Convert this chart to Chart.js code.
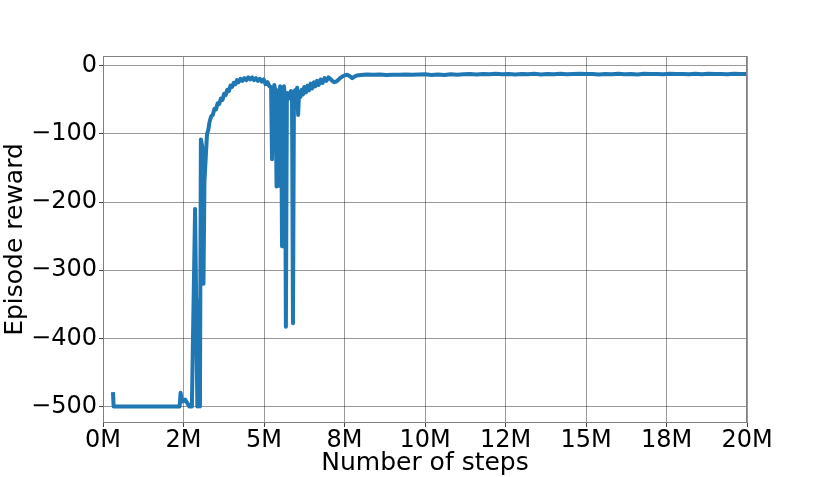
<!DOCTYPE html>
<html>
<head>
<meta charset="utf-8">
<script src="https://cdn.jsdelivr.net/npm/chart.js@4"></script>
<style>
  html, body { margin: 0; padding: 0; background: #fff; }
  #wrap { width: 831px; height: 477px; }
</style>
</head>
<body>
<div id="wrap"><canvas id="rewardChart" width="831" height="477"></canvas></div>
<script>
const CHART = document.getElementById("rewardChart");

// steps in millions
let stepsM = [
  0.31, 0.33, 1.0, 1.6, 2.38, 2.41, 2.45, 2.55, 2.68, 2.76,
  2.86, 2.93, 2.97, 3.01, 3.04, 3.08, 3.12, 3.15, 3.19, 3.23,
  3.27, 3.31, 3.36, 3.41, 3.46, 3.51, 3.56, 3.61, 3.66, 3.71,
  3.76, 3.81, 3.86, 3.91, 3.96, 4.01, 4.06, 4.11, 4.16, 4.21,
  4.27, 4.33, 4.39, 4.45, 4.51, 4.57, 4.63, 4.69, 4.75, 4.81,
  4.87, 4.93, 4.99, 5.05, 5.11, 5.17, 5.22, 5.25, 5.28, 5.32,
  5.36, 5.39, 5.42, 5.44, 5.47, 5.50, 5.53, 5.56, 5.59, 5.62,
  5.65, 5.68, 5.71, 5.74, 5.77, 5.80, 5.84, 5.87, 5.90, 5.93,
  5.96, 6.00, 6.03, 6.06, 6.09, 6.13, 6.17, 6.21, 6.25, 6.30,
  6.35, 6.40, 6.45, 6.50, 6.55, 6.60, 6.65, 6.70, 6.76, 6.82,
  6.88, 6.94, 7.00, 7.06, 7.12, 7.18, 7.24, 7.30, 7.36, 7.42,
  7.50, 7.58, 7.66, 7.74, 7.80, 7.88,
  8.0, 8.2, 8.4, 8.6, 8.8, 9.0, 9.2, 9.4, 9.6, 9.8,
  10.0, 10.2, 10.4, 10.6, 10.8, 11.0, 11.2, 11.4, 11.6, 11.8,
  12.0, 12.2, 12.4, 12.6, 12.8, 13.0, 13.2, 13.4, 13.6, 13.8,
  14.0, 14.2, 14.4, 14.6, 14.8, 15.0, 15.2, 15.4, 15.6, 15.8,
  16.0, 16.2, 16.4, 16.6, 16.8, 17.0, 17.2, 17.4, 17.6, 17.8,
  18.0, 18.2, 18.4, 18.6, 18.8, 19.0, 19.2, 19.4, 19.6, 19.8,
  20.0
];

let reward = [
  -479, -500, -500, -500, -500, -480, -493, -490, -500, -500,
  -210, -500, -345, -500, -108, -118, -320, -170, -135, -100,
  -94, -82, -74, -72, -63, -64, -55, -56, -48, -50,
  -41, -43, -35, -37, -29, -31, -25, -27, -21, -24,
  -19, -22, -18, -21, -17, -20, -17, -21, -18, -22,
  -19, -23, -20, -27, -24, -30, -31, -137, -35, -28,
  -38, -177, -42, -36, -176, -30, -32, -265, -38, -30,
  -45, -383, -45, -40, -48, -42, -37, -45, -378, -42,
  -36, -40, -32, -72, -38, -46, -35, -42, -31, -39,
  -29, -36, -26, -33, -24, -30, -22, -28, -20, -25,
  -18, -22, -17, -19, -22, -24, -23, -21, -18, -16,
  -14, -13, -15, -18, -16, -14,
  -13.5, -12.8, -13.2, -12.6, -13.4, -12.9, -13.1, -12.5, -13.0, -12.7,
  -12.4, -13.3, -12.6, -13.5, -12.2, -12.9, -12.4, -12.0, -12.7, -12.1,
  -12.4, -11.7, -12.2, -11.9, -12.6, -11.8, -12.3, -11.6, -12.5, -11.9,
  -12.2, -11.7, -12.4, -12.0, -11.5, -12.1, -11.8, -12.6, -11.9, -12.3,
  -11.6, -12.2, -11.8, -12.5, -11.7, -12.1, -11.9, -12.4, -11.6, -12.0,
  -11.8, -12.3, -11.7, -12.2, -11.5, -12.0, -11.8, -12.4, -11.7, -12.1,
  -11.9
];

let xTickValues = [0, 2.5, 5, 7.5, 10, 12.5, 15, 17.5, 20];
let xTickLabels = ['0M', '2M', '5M', '8M', '10M', '12M', '15M', '18M', '20M'];
let yTickValues = [-500, -400, -300, -200, -100, 0];

const FONT = "'DejaVu Sans', sans-serif";

const points = stepsM.map((s, i) => ({ x: s, y: reward[i] }));

// box round the plot, like matplotlib spines
const frame = {
    id: 'frame',
    afterDraw(chart) {
        const a = chart.chartArea;
        const ctx = chart.ctx;
        ctx.save();
        ctx.strokeStyle = '#808080';
        ctx.lineWidth = 1;
        ctx.strokeRect(a.left + 0.5, a.top + 0.5, a.right - a.left - 1, a.bottom - a.top - 1);
        ctx.restore();
    }
};

let lineChart = new Chart(CHART, {
    type: 'line',
    data: {
        datasets: [{
            label: 'Episode reward',
            data: points,
            borderColor: '#1f77b4',
            borderWidth: 4,
            pointRadius: 0,
            tension: 0,
            fill: false,
            borderJoinStyle: 'round',
            borderCapStyle: 'butt'
        }]
    },
    options: {
        responsive: false,
        animation: false,
        events: [],
        layout: { padding: { top: 56, right: 84, left: 0, bottom: 0 } },
        plugins: { legend: { display: false }, tooltip: { enabled: false } },
        scales: {
            x: {
                type: 'linear',
                min: 0,
                max: 20,
                afterBuildTicks: (scale) => { scale.ticks = xTickValues.map(v => ({ value: v })); },
                afterFit: (scale) => { scale.height = 54; },
                ticks: {
                    color: '#000',
                    font: { family: FONT, size: 24, lineHeight: 1.0 },
                    padding: 2,
                    maxRotation: 0,
                    autoSkip: false,
                    callback: (v) => xTickLabels[xTickValues.indexOf(v)]
                },
                grid: { color: 'rgba(0,0,0,0.4)', lineWidth: 1, drawTicks: true, tickLength: 4, tickColor: '#444' },
                border: { display: false },
                title: {
                    display: true,
                    text: 'Number of steps',
                    color: '#000',
                    font: { family: FONT, size: 25, lineHeight: 1.1 },
                    padding: 0
                }
            },
            y: {
                min: -524.4,
                max: 14.5,
                afterBuildTicks: (scale) => { scale.ticks = yTickValues.map(v => ({ value: v })); },
                afterFit: (scale) => { scale.width = 103; },
                ticks: {
                    color: '#000',
                    font: { family: FONT, size: 24, lineHeight: 1.0 },
                    padding: 2,
                    callback: (v) => v < 0 ? '\u2212' + Math.abs(v) : String(v)
                },
                grid: { color: 'rgba(0,0,0,0.4)', lineWidth: 1, drawTicks: true, tickLength: 4, tickColor: '#444' },
                border: { display: false },
                title: {
                    display: true,
                    text: 'Episode reward',
                    color: '#000',
                    font: { family: FONT, size: 25, lineHeight: 1.2 },
                    padding: 0
                }
            }
        }
    },
    plugins: [frame]
});
</script>
</body>
</html>
